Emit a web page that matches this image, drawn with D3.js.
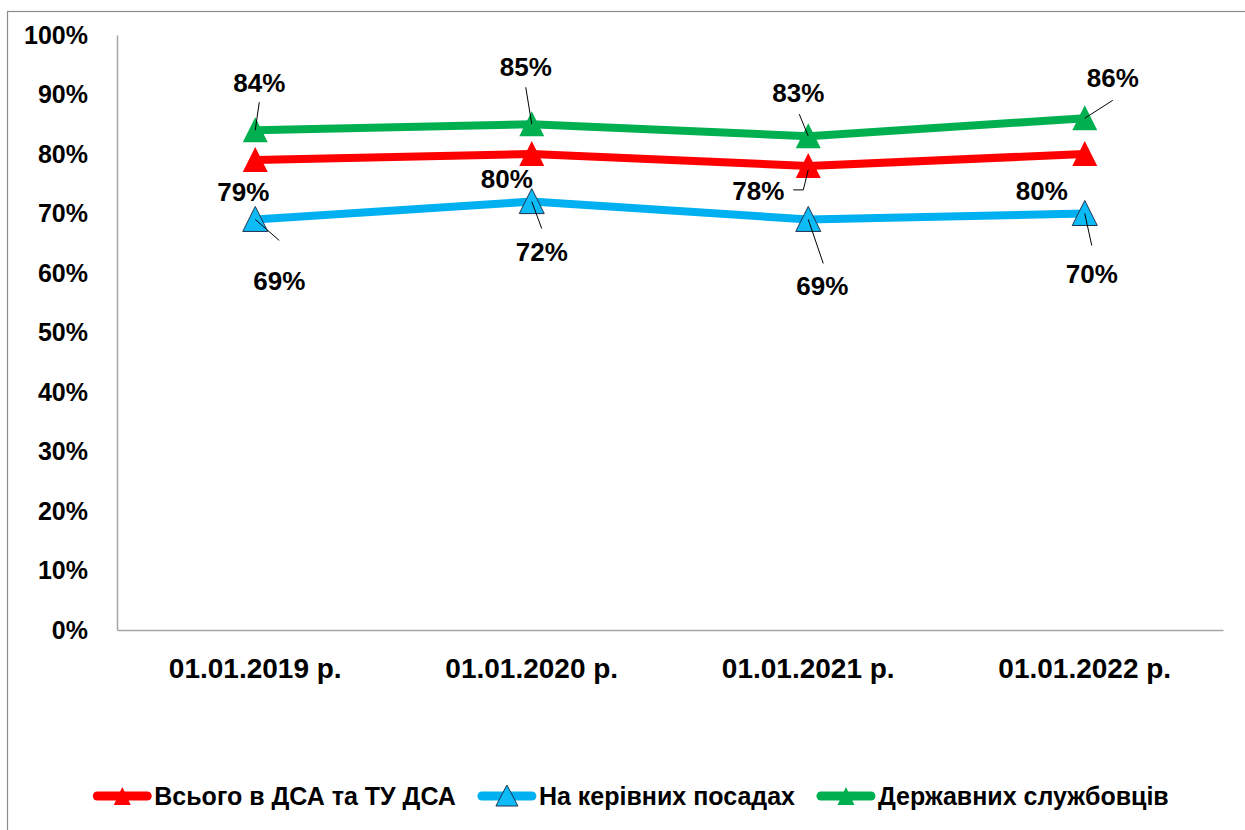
<!DOCTYPE html>
<html>
<head>
<meta charset="utf-8">
<script src="https://cdn.jsdelivr.net/npm/d3@7"></script>
<style>
  body { margin: 0; background: #fff; }
  svg { display: block; }
</style>
</head>
<body>
<div id="chart"></div>
<script>
// data
const categories = ["01.01.2019 р.", "01.01.2020 р.", "01.01.2021 р.", "01.01.2022 р."];
const seriesNames = ["Всього в ДСА та ТУ ДСА", "На керівних посадах", "Державних службовців"];
const totalValues = [0.79, 0.80, 0.78, 0.80];
const managerValues = [0.69, 0.72, 0.69, 0.70];
const civilValues = [0.84, 0.85, 0.83, 0.86];
const yTicks = [0, 0.1, 0.2, 0.3, 0.4, 0.5, 0.6, 0.7, 0.8, 0.9, 1.0];

// label placement (pixels from the point), like the hand-moved labels in the original
const labelOffsets = [
  [[-12, 32], [-25, 25], [-50, 25], [-43, 37]],
  [[24, 62], [10, 50], [14, 67], [7, 60]],
  [[4, -47], [-6, -57], [-10, -43], [28, -40]]
];
const leaderLines = [
  [null, null, [[0, 4], [-5, 24], [-15, 24]], null],
  [[[0, 0], [24, 21]], [[0, 0], [10, 27]], [[0, 0], [15, 44]], [[0, 0], [7, 32]]],
  [[[0, 0], [4, -28]], [[0, 0], [-6, -37]], [[0, 0], [-9, -22]], [[0, 0], [28, -18]]]
];

const width = 1245, height = 830;
const margin = {top: 35, right: 22, bottom: 200, left: 117};

const series = [
  {name: seriesNames[0], values: totalValues, color: "#FF0000", marker: "#FF0000", stroke: "none"},
  {name: seriesNames[1], values: managerValues, color: "#00B0F0", marker: "#0DBCF7", stroke: "#1F3350"},
  {name: seriesNames[2], values: civilValues, color: "#00B050", marker: "#00B050", stroke: "none"}
];

const svg = d3.select("#chart").append("svg")
  .attr("width", width)
  .attr("height", height);

// outer chart border
svg.append("rect")
  .attr("x", 7.5).attr("y", 11.5)
  .attr("width", 1300).attr("height", 900)
  .attr("fill", "none")
  .attr("stroke", "#8C8C8C")
  .attr("stroke-width", 1.2);

const x = d3.scaleBand()
  .domain(categories)
  .range([margin.left, width - margin.right]);

const y = d3.scaleLinear()
  .domain([0, 1])
  .range([height - margin.bottom, margin.top]);

const font = "'Liberation Sans', Arial, sans-serif";

// y axis
const yAxis = svg.append("g")
  .attr("transform", `translate(${margin.left},0)`)
  .call(d3.axisLeft(y).tickValues(yTicks).tickSize(0).tickPadding(29).tickFormat(d3.format(".0%")));
yAxis.select(".domain").attr("stroke", "#A6A6A6").attr("stroke-width", 1.5);
yAxis.selectAll("text")
  .attr("font-family", font)
  .attr("font-size", "25px")
  .attr("font-weight", "bold")
  .attr("fill", "#000");

// x axis
const xAxis = svg.append("g")
  .attr("transform", `translate(0,${height - margin.bottom})`)
  .call(d3.axisBottom(x).tickSize(0).tickPadding(28).tickSizeOuter(0));
xAxis.select(".domain").attr("stroke", "#A6A6A6").attr("stroke-width", 1.5);
xAxis.selectAll("text")
  .attr("font-family", font)
  .attr("font-size", "28px")
  .attr("font-weight", "bold")
  .attr("fill", "#000");

const cx = (d, i) => x(categories[i]) + x.bandwidth() / 2;
const line = d3.line().x((d, i) => cx(d, i)).y(d => y(d));
const tri = "M0,-13L12.5,12L-12.5,12Z";

// lines and markers
series.forEach(s => {
  svg.append("path")
    .datum(s.values)
    .attr("d", line)
    .attr("fill", "none")
    .attr("stroke", s.color)
    .attr("stroke-width", 8)
    .attr("stroke-linejoin", "round");

  svg.selectAll(null)
    .data(s.values)
    .enter()
    .append("path")
    .attr("d", tri)
    .attr("transform", (d, i) => `translate(${cx(d, i)},${y(d)})`)
    .attr("fill", s.marker)
    .attr("stroke", s.stroke)
    .attr("stroke-width", 1);
});

// leader lines and data labels
series.forEach((s, si) => {
  s.values.forEach((v, i) => {
    const px = cx(v, i), py = y(v);
    const pts = leaderLines[si][i];
    if (pts) {
      svg.append("path")
        .attr("d", d3.line()(pts.map(p => [px + p[0], py + p[1]])))
        .attr("fill", "none")
        .attr("stroke", "#000")
        .attr("stroke-width", 1);
    }
    const off = labelOffsets[si][i];
    svg.append("text")
      .attr("x", px + off[0])
      .attr("y", py + off[1])
      .attr("text-anchor", "middle")
      .attr("dominant-baseline", "central")
      .attr("font-family", font)
      .attr("font-size", "26px")
      .attr("font-weight", "bold")
      .text(d3.format(".0%")(v));
  });
});

// legend
const legend = svg.append("g");
let lx = 0;
series.forEach((s, si) => {
  const g = legend.append("g").attr("transform", `translate(${lx},0)`);
  g.append("line")
    .attr("x1", 4).attr("x2", 54)
    .attr("stroke", s.color)
    .attr("stroke-width", 9)
    .attr("stroke-linecap", "round");
  g.append("path")
    .attr("d", si === 1 ? "M0,-11L11,10L-11,10Z" : "M0,-9L8.5,9L-8.5,9Z")
    .attr("transform", `translate(29,0)`)
    .attr("fill", s.marker)
    .attr("stroke", s.stroke)
    .attr("stroke-width", 1);
  const t = g.append("text")
    .attr("x", 61)
    .attr("dominant-baseline", "central")
    .attr("font-family", font)
    .attr("font-size", "25px")
    .attr("font-weight", "bold")
    .text(s.name);
  lx += 61 + t.node().getComputedTextLength() + 22;
});
const legendWidth = lx - 22;
legend.attr("transform", `translate(${631 - legendWidth / 2},796)`);
</script>
</body>
</html>
